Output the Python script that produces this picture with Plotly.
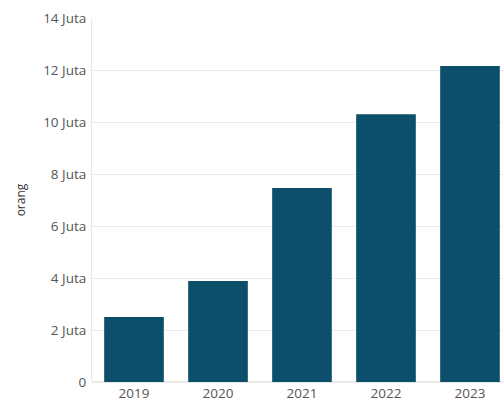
import plotly.graph_objects as go

years = ["2019", "2020", "2021", "2022", "2023"]
values = [2.5e6, 3.88e6, 7.46e6, 10.3e6, 12.15e6]
tick_vals = [0, 2e6, 4e6, 6e6, 8e6, 10e6, 12e6, 14e6]
tick_text = ["0", "2 Juta", "4 Juta", "6 Juta", "8 Juta", "10 Juta", "12 Juta", "14 Juta"]

fig = go.Figure(go.Bar(x=years, y=values, marker=dict(color="#0b4f6b", line=dict(width=0))))

fig.update_layout(
    width=503, height=398,
    margin=dict(l=92, r=0, t=18, b=16),
    paper_bgcolor="white", plot_bgcolor="white",
    bargap=0.29,
    font=dict(family="Open Sans", size=13.5, color="#555555"),
    showlegend=False,
)
fig.update_xaxes(
    type="category", range=[-0.5, 4.393],
    showgrid=False, showline=False, ticks="",
    tickfont=dict(size=13.5, color="#555555"),
    ticklabelstandoff=1, automargin=False,
)
fig.update_yaxes(
    range=[0, 14e6], tickvals=tick_vals, ticktext=tick_text,
    showgrid=True, gridcolor="#e9e9e9", gridwidth=1,
    zeroline=True, zerolinecolor="#e9e9e9",
    showline=True, linecolor="#e9e9e9", linewidth=1,
    ticks="", ticklabelstandoff=2,
    tickfont=dict(size=13.5, color="#555555"),
    title=dict(text="orang", font=dict(size=12, color="#333333"), standoff=14),
    automargin=False,
)

fig.write_html(
    "out.html",
    config={"displayModeBar": False},
    post_script="document.body.style.margin='0';document.body.style.overflow='hidden';",
)
